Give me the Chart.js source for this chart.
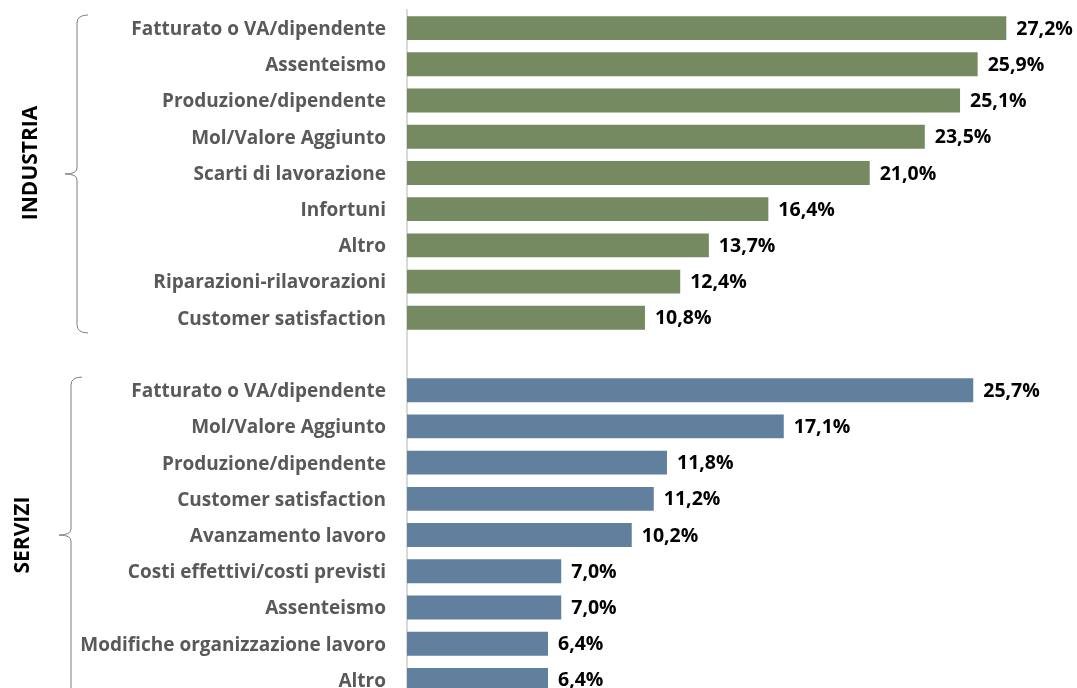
<!DOCTYPE html>
<html>
<head>
<meta charset="utf-8">
<script src="https://cdn.jsdelivr.net/npm/chart.js@4"></script>
<style>
  html, body { margin: 0; padding: 0; background: #fff; overflow: hidden; }
  #wrap { position: relative; width: 1077px; height: 700px; }
</style>
</head>
<body>
<div id="wrap"><canvas id="chart"></canvas></div>
<script>
var industriaLabels = ["Fatturato o VA/dipendente", "Assenteismo", "Produzione/dipendente", "Mol/Valore Aggiunto",
    "Scarti di lavorazione", "Infortuni", "Altro", "Riparazioni-rilavorazioni", "Customer satisfaction"];
var industriaValues = [27.2, 25.9, 25.1, 23.5, 21.0, 16.4, 13.7, 12.4, 10.8];

var serviziLabels = ["Fatturato o VA/dipendente", "Mol/Valore Aggiunto", "Produzione/dipendente", "Customer satisfaction",
    "Avanzamento lavoro", "Costi effettivi/costi previsti", "Assenteismo", "Modifiche organizzazione lavoro", "Altro"];
var serviziValues = [25.7, 17.1, 11.8, 11.2, 10.2, 7.0, 7.0, 6.4, 6.4];

var groupNames = ["INDUSTRIA", "SERVIZI"];
var industriaColor = "#758a60";
var serviziColor = "#60809e";

// one empty row between the two groups
var labels = industriaLabels.concat([""], serviziLabels);
var values = industriaValues.concat([null], serviziValues);
var colors = [];
for (let i = 0; i < industriaValues.length; i++) colors.push(industriaColor);
colors.push("rgba(0,0,0,0)");
for (let i = 0; i < serviziValues.length; i++) colors.push(serviziColor);

var FONT = "'Open Sans', 'Noto Sans', sans-serif";

function fmt(v) {
    return v.toFixed(1).replace(".", ",") + "%";
}

var valueLabels = {
    id: "valueLabels",
    afterDatasetsDraw(chart) {
        var ctx = chart.ctx;
        var meta = chart.getDatasetMeta(0);
        ctx.save();
        ctx.font = "bold 19.5px " + FONT;
        ctx.fillStyle = "#000";
        ctx.textAlign = "left";
        ctx.textBaseline = "middle";
        meta.data.forEach(function (bar, i) {
            if (values[i] == null) return;
            ctx.fillText(fmt(values[i]), bar.x + 10, bar.y + 1);
        });
        ctx.restore();
    }
};

var groupBraces = {
    id: "groupBraces",
    afterDraw(chart) {
        var ctx = chart.ctx;
        var y = chart.scales.y;
        var half = (y.getPixelForValue(1) - y.getPixelForValue(0)) / 2;
        var groups = [
            [0, industriaValues.length - 1],
            [industriaValues.length + 1, labels.length - 1]
        ];
        var braceX = [77, 71];
        var textX = [31, 23];
        ctx.save();
        groups.forEach(function (g, k) {
            var top = y.getPixelForValue(g[0]) - half + 5;
            var bot = y.getPixelForValue(g[1]) + half - 3;
            if (k == 1) bot = y.getPixelForValue(g[1]) + half + 40;
            var mid = k == 0 ? (top + bot) / 2 : y.getPixelForValue(g[0] + 4);
            var x = braceX[k];
            ctx.strokeStyle = "#7f7f7f";
            ctx.lineWidth = 1;
            ctx.beginPath();
            ctx.moveTo(x + 11, top);
            ctx.quadraticCurveTo(x, top, x, top + 8);
            ctx.lineTo(x, mid - 6);
            ctx.quadraticCurveTo(x, mid, x - 12, mid);
            ctx.quadraticCurveTo(x, mid, x, mid + 6);
            ctx.lineTo(x, bot - 8);
            ctx.quadraticCurveTo(x, bot, x + 11, bot);
            ctx.stroke();

            ctx.translate(textX[k], k == 0 ? mid - 11 : mid);
            ctx.rotate(-Math.PI / 2);
            ctx.font = "bold 21px " + FONT;
            ctx.fillStyle = "#000";
            ctx.textAlign = "center";
            ctx.textBaseline = "middle";
            ctx.fillText(groupNames[k], 0, 0);
            ctx.setTransform(1, 0, 0, 1, 0, 0);
        });
        ctx.restore();
    }
};

new Chart(document.getElementById("chart"), {
    type: "bar",
    data: {
        labels: labels,
        datasets: [{
            data: values,
            backgroundColor: colors,
            borderWidth: 0,
            barPercentage: 0.66,
            categoryPercentage: 1
        }]
    },
    options: {
        indexAxis: "y",
        responsive: true,
        maintainAspectRatio: false,
        animation: false,
        layout: { padding: { top: 10, right: 9, bottom: 2, left: 0 } },
        plugins: {
            legend: { display: false },
            tooltip: { enabled: false }
        },
        scales: {
            x: {
                display: false,
                min: 0,
                max: 30
            },
            y: {
                afterFit(scale) {
                    scale.width = 407;
                    scale.paddingTop = 0;
                    scale.paddingBottom = 0;
                },
                grid: { display: false, drawTicks: false },
                border: { display: true, color: "#d9d9d9", width: 2 },
                ticks: {
                    padding: 21,
                    labelOffset: 1.5,
                    color: "#595959",
                    font: { family: FONT, size: 19, weight: "bold" }
                }
            }
        }
    },
    plugins: [valueLabels, groupBraces]
});
</script>
</body>
</html>
